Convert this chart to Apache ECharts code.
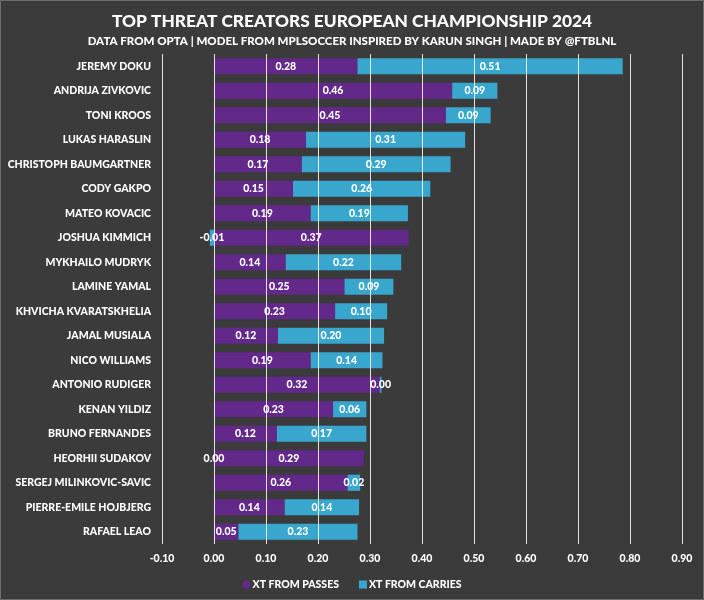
<!DOCTYPE html>
<head>
<meta charset="utf-8">
<title>ECharts</title>
<style>
    html,body{
        margin:0;
        padding:0;
        background:#3b3b3b;
    }
    #main{
        width:704px;
        height:600px;
    }
</style>
</head>
<body>
<div id="main"></div>
<script src="https://cdn.jsdelivr.net/npm/echarts@6/dist/echarts.min.js"></script>
<script type="text/javascript">
    // players, top to bottom
    var players = ['JEREMY DOKU', 'ANDRIJA ZIVKOVIC', 'TONI KROOS', 'LUKAS HARASLIN', 'CHRISTOPH BAUMGARTNER',
        'CODY GAKPO', 'MATEO KOVACIC', 'JOSHUA KIMMICH', 'MYKHAILO MUDRYK', 'LAMINE YAMAL',
        'KHVICHA KVARATSKHELIA', 'JAMAL MUSIALA', 'NICO WILLIAMS', 'ANTONIO RUDIGER', 'KENAN YILDIZ',
        'BRUNO FERNANDES', 'HEORHII SUDAKOV', 'SERGEJ MILINKOVIC-SAVIC', 'PIERRE-EMILE HOJBJERG', 'RAFAEL LEAO'];
    var xtPasses = [0.276, 0.458, 0.446, 0.177, 0.169, 0.152, 0.186, 0.374, 0.138, 0.251,
        0.233, 0.123, 0.186, 0.319, 0.229, 0.121, 0.288, 0.257, 0.136, 0.047];
    // sudakov's carries are a hair below zero, so the label sits at 0
    var xtCarries = [0.510, 0.087, 0.086, 0.306, 0.286, 0.264, 0.187, -0.008, 0.222, 0.094,
        0.100, 0.204, 0.138, 0.003, 0.064, 0.172, -0.0002, 0.024, 0.143, 0.229];
    var xTicks = [-0.1, 0.9, 0.1];

    var purple = '#62298a';
    var blue = '#38a6cd';

    function fmt(v){
        if (Math.abs(v) < 0.005) return '0.00';
        return v.toFixed(2);
    }

    var myChart = echarts.init(document.getElementById('main'));
    var barLabel = {
        show: true,
        position: 'inside',
        color: '#fff',
        fontFamily: 'Lato',
        fontWeight: 900,
        fontSize: 10.5,
        formatter: function(p){ return fmt(p.value); }
    };
    var option = {
        backgroundColor: '#3b3b3b',
        title: {
            text: 'TOP THREAT CREATORS EUROPEAN CHAMPIONSHIP 2024',
            subtext: 'DATA FROM OPTA | MODEL FROM MPLSOCCER INSPIRED BY KARUN SINGH | MADE BY @FTBLNL',
            left: 'center',
            top: 8,
            itemGap: 5,
            textStyle: {
                color: '#fff',
                fontFamily: 'Lato',
                fontWeight: 900,
                fontSize: 17.3
            },
            subtextStyle: {
                color: '#fff',
                fontFamily: 'Lato',
                fontWeight: 900,
                fontSize: 11.5
            }
        },
        legend: {
            data: [{name: 'XT FROM PASSES', icon: 'circle'}, {name: 'XT FROM CARRIES', icon: 'rect'}],
            left: 'center',
            top: 574,
            itemWidth: 8,
            itemHeight: 8,
            itemGap: 20,
            textStyle: {
                color: '#fff',
                fontFamily: 'Lato',
                fontWeight: 900,
                fontSize: 10.5,
                padding: [0, 0, 0, -3]
            }
        },
        grid: {
            left: 162,
            right: 22,
            top: 54,
            bottom: 56
        },
        xAxis: {
            type: 'value',
            min: xTicks[0],
            max: xTicks[1],
            interval: xTicks[2],
            z: 3,
            axisLine: {show: false},
            axisTick: {show: false},
            splitLine: {
                lineStyle: {color: 'rgba(255,255,255,0.85)', width: 1}
            },
            axisLabel: {
                color: '#fff',
                fontFamily: 'Lato',
                fontWeight: 900,
                fontSize: 10.5,
                margin: 9,
                formatter: function(v){ return v.toFixed(2); }
            }
        },
        yAxis: {
            type: 'category',
            inverse: true,
            data: players,
            axisLine: {show: false},
            axisTick: {show: false},
            axisLabel: {
                color: '#fff',
                fontFamily: 'Lato',
                fontWeight: 900,
                fontSize: 10.5,
                margin: 11
            }
        },
        series: [{
            name: 'XT FROM PASSES',
            type: 'bar',
            stack: 'xt',
            barWidth: '66%',
            itemStyle: {color: purple},
            label: barLabel,
            data: xtPasses
        }, {
            name: 'XT FROM CARRIES',
            type: 'bar',
            stack: 'xt',
            barWidth: '66%',
            itemStyle: {color: blue},
            label: barLabel,
            data: xtCarries
        }],
        graphic: [{
            type: 'rect',
            shape: {x: 0.5, y: 0.5, width: 703, height: 599},
            style: {fill: null, stroke: '#6e6e6e', lineWidth: 1},
            silent: true
        }]
    };
    myChart.setOption(option);
</script>
</body>
</html>
